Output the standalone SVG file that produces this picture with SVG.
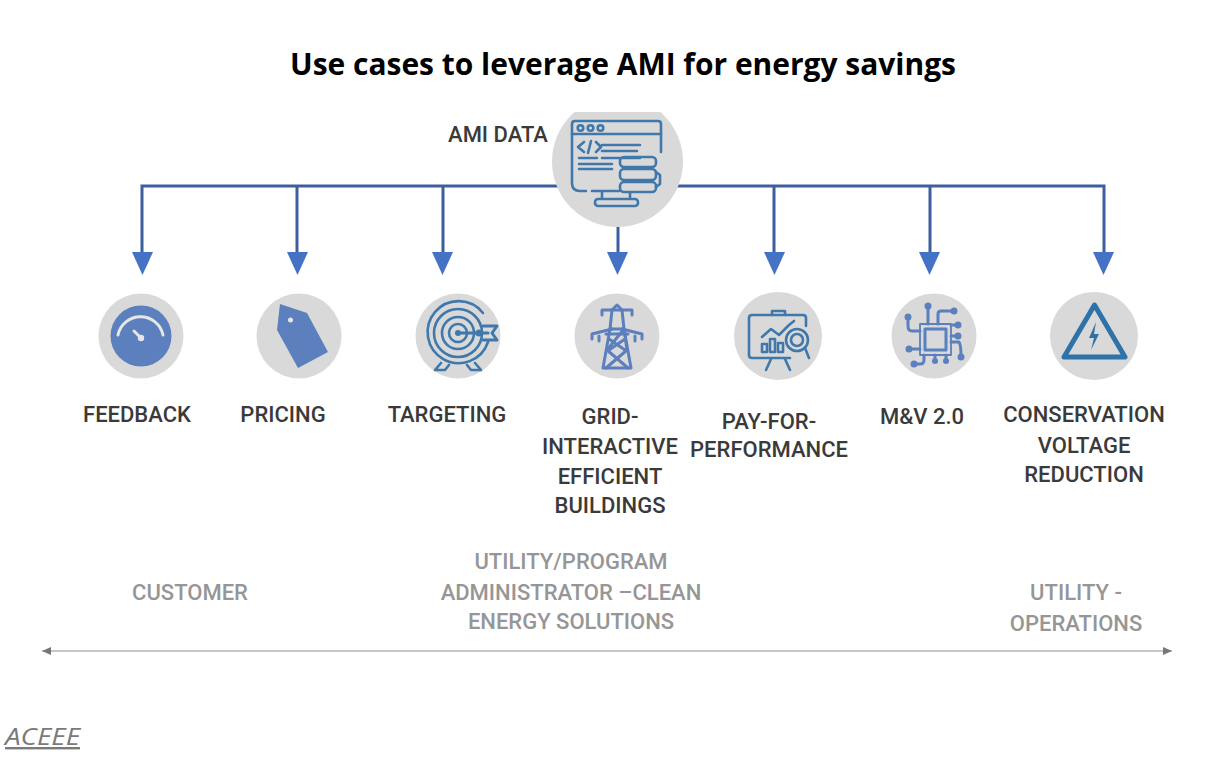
<svg xmlns="http://www.w3.org/2000/svg" width="1214" height="776" viewBox="0 0 1214 776">
<style>
.d{fill:#d9d9d9}
.i{fill:none;stroke:#3f78ab;stroke-width:2.6;stroke-linecap:round;stroke-linejoin:round}
.b{fill:none;stroke:#5b7fbd;stroke-width:3;stroke-linecap:round;stroke-linejoin:round}
.f{fill:#5b7fbd}
.t{font-family:"Roboto","Liberation Sans",sans-serif;font-size:22px;font-weight:500;fill:#3a3a3a;text-anchor:middle}
.g{font-family:"Roboto","Liberation Sans",sans-serif;font-size:22px;font-weight:500;fill:#969696;text-anchor:middle}
.c{fill:none;stroke:#3c5f9e;stroke-width:3}
.s{filter:url(#soft)}
</style>
<defs>
<filter id="soft" x="-5%" y="-5%" width="110%" height="110%"><feGaussianBlur stdDeviation="0.45"/></filter>
<marker id="s" markerUnits="userSpaceOnUse" markerWidth="10" markerHeight="8" refX="9" refY="4" orient="auto-start-reverse" viewBox="0 0 10 8"><path d="M0 0L9 4L0 8Z" fill="#777"/></marker>
<clipPath id="top"><rect x="540" y="112" width="160" height="120"/></clipPath>
</defs>
<rect width="1214" height="776" fill="#fff"/>
<text id="title" x="623" y="75" text-anchor="middle" font-family="'Open Sans','Liberation Sans',sans-serif" font-weight="700" font-size="30.500" textLength="666" lengthAdjust="spacingAndGlyphs" fill="#000">Use cases to leverage AMI for energy savings</text>
<g id="connectors">
<path class="c" d="M558 186H142V254M297 186V254M443 186V254"/>
<path class="c" d="M677 186H1104V254M774 186V254M930 186V254"/>
<path class="c" d="M618 227V254"/>
<g fill="#4472c4">
<path d="M132 252H153L142.500 275Z"/><path d="M287 252H308L297.500 275Z"/><path d="M432 252H453L442.500 275Z"/><path d="M607 252H628L617.500 275Z"/><path d="M764 252H785L774.500 275Z"/><path d="M919 252H940L929.500 275Z"/><path d="M1093 252H1114L1103.500 275Z"/>
</g>
<path d="M42 651H1172" stroke="#b5b5b5" stroke-width="1.500" fill="none" marker-start="url(#s)" marker-end="url(#s)"/>
</g>
<g id="ami">
<circle class="d" cx="617.500" cy="161.500" r="65.500" clip-path="url(#top)"/>
<text x="498" y="142" class="t">AMI DATA</text>
<g class="i s">
<path d="M661 152V124Q661 121 658 121H575Q572 121 572 124V183Q572 191 580 191H586M592 191H619"/>
<path d="M572 134H661"/>
<rect x="595" y="199" width="43" height="7" rx="3"/>
<path d="M602 192V198M630 193V198"/>
<circle cx="580.500" cy="128" r="2.800"/><circle cx="590.500" cy="128" r="2.800"/><circle cx="600.500" cy="128" r="2.800"/>
<path d="M584 142L578 147L584 152M596 142L601 147L596 152M591 141L588 153M602 145H640M602 151H637M579 158H597M602 158H640M579 164H612M579 169H612"/>
<rect x="620" y="157" width="36" height="10" rx="4"/><rect x="620" y="169" width="36" height="11" rx="4"/><rect x="620" y="182" width="36" height="10" rx="4"/>
<path d="M656 172L660 175V184L656 187"/>
</g>
</g>
<g id="feedback">
<circle class="d" cx="141" cy="336" r="42.500"/>
<g class="s">
<circle class="f" cx="141" cy="336" r="30.500"/>
<path d="M118 335A23 23 0 0 1 163 335" fill="none" stroke="#e6e6e6" stroke-width="3" stroke-linecap="round"/>
<path d="M134 331L142 339" stroke="#e6e6e6" stroke-width="3" stroke-linecap="round"/><circle cx="141" cy="338" r="3.200" fill="#e6e6e6"/>
</g>
<text x="137" y="422" class="t">FEEDBACK</text>
</g>
<g id="pricing">
<circle class="d" cx="299" cy="336" r="42.500"/>
<g class="s">
<path class="f" d="M280 304L307 313L328 352L298 368L277 330Z"/>
<circle cx="290.500" cy="320" r="2.500" fill="#e6e6e6"/>
</g>
<text x="283" y="422" class="t">PRICING</text>
</g>
<g id="targeting">
<circle class="d" cx="458" cy="336" r="42.500"/>
<g class="i s">
<path d="M483 313A31 31 0 1 0 488 342"/><circle cx="458" cy="333" r="24"/><circle cx="458" cy="333" r="16"/><circle cx="458" cy="333" r="9"/>
<path d="M458 333H488M483 326L497 326L492 333L497 340L483 340" stroke-width="3"/>
<path d="M441 363L435 370H445L449 365M475 363L481 370H471L467 365"/>
</g>
<circle cx="458" cy="333" r="3" fill="#3f78ab"/><circle cx="479" cy="333" r="3.500" fill="#3f78ab"/>
<text x="447" y="422" class="t">TARGETING</text>
</g>
<g id="grid">
<circle class="d" cx="617" cy="336" r="42.500"/>
<g class="b s">
<path d="M602 315V310H632V315M592 339V334L612 329M642 339V334L622 329M599 336V341M635 336V341"/>
<path d="M612 310L617 305L622 310L624 329L631 368H603L610 329Z"/>
<path d="M610 329H624L607 350L628 368M624 329L627 350L606 368M609 339L625 350M625 339L609 350"/>
<path d="M606 334H628"/>
</g>
<text x="610" y="424" class="t">GRID-</text>
<text x="610" y="454" class="t">INTERACTIVE</text>
<text x="610" y="484" class="t">EFFICIENT</text>
<text x="610" y="513" class="t">BUILDINGS</text>
</g>
<g id="pay">
<circle class="d" cx="778" cy="336" r="44"/>
<g class="i s">
<path d="M790 358H752Q749 358 749 355V318Q749 315 752 315H803Q806 315 806 318V326"/>
<path d="M772 315V311H785V315M771 359L766 370M785 359L790 370"/>
<path d="M762 337L771 329L779 335L789 325L794 321"/>
<circle cx="797" cy="340" r="11"/><circle cx="797" cy="340" r="6"/><path d="M805 348L809 358"/>
<rect x="762" y="344" width="5" height="8"/><rect x="770" y="339" width="5" height="13"/><rect x="778" y="343" width="5" height="9"/>
</g>
<text x="769" y="429" class="t">PAY-FOR-</text>
<text x="769" y="457" class="t">PERFORMANCE</text>
</g>
<g id="mv">
<circle class="d" cx="934" cy="336" r="42.500"/>
<g class="s">
<g class="b">
<rect x="925" y="329" width="21" height="21" stroke-width="3"/>
<rect x="920" y="324" width="31" height="31" stroke-width="1.800"/>
<path d="M928 324V307M938 324V314Q938 311 941 311H953M951 325H958M951 336H958M951 342H959Q961 345 961 355M920 331H912Q908 331 908 326V318M920 349H909M924 355V360Q924 364 920 364H914M935 355V360M946 355V360"/>
</g>
<g class="f">
<circle cx="928" cy="306" r="3.500"/><circle cx="954" cy="311" r="3.500"/><circle cx="958" cy="325" r="3.500"/><circle cx="958" cy="336" r="3.500"/><circle cx="961" cy="357" r="3.500"/><circle cx="908" cy="317" r="3.500"/><circle cx="909" cy="349" r="3.500"/><circle cx="914" cy="364" r="3.500"/><circle cx="935" cy="361" r="3"/><circle cx="946" cy="361" r="3"/>
</g>
</g>
<text x="922" y="424" class="t">M&amp;V 2.0</text>
</g>
<g id="cvr">
<circle class="d" cx="1094" cy="336" r="44"/>
<g class="s">
<path d="M1094.500 305L1125 357H1064Z" fill="none" stroke="#2f72a8" stroke-width="5" stroke-linejoin="round"/>
<path d="M1096 322L1089 338H1094L1091 350L1099 334H1094Z" fill="#2f72a8"/>
</g>
<text x="1084" y="422" class="t">CONSERVATION</text>
<text x="1084" y="453" class="t">VOLTAGE</text>
<text x="1084" y="482" class="t">REDUCTION</text>
</g>
<g id="scale">
<text x="190" y="600" class="g">CUSTOMER</text>
<text x="571" y="569" class="g">UTILITY/PROGRAM</text>
<text x="571" y="600" class="g">ADMINISTRATOR –CLEAN</text>
<text x="571" y="629" class="g">ENERGY SOLUTIONS</text>
<text x="1076" y="600" class="g">UTILITY -</text>
<text x="1076" y="631" class="g">OPERATIONS</text>
</g>
<text id="credit" x="5" y="745" font-family="'Open Sans','Liberation Sans',sans-serif" font-style="italic" font-size="24" textLength="75" lengthAdjust="spacingAndGlyphs" fill="#7a7a7a" text-decoration="underline">ACEEE</text>
</svg>
